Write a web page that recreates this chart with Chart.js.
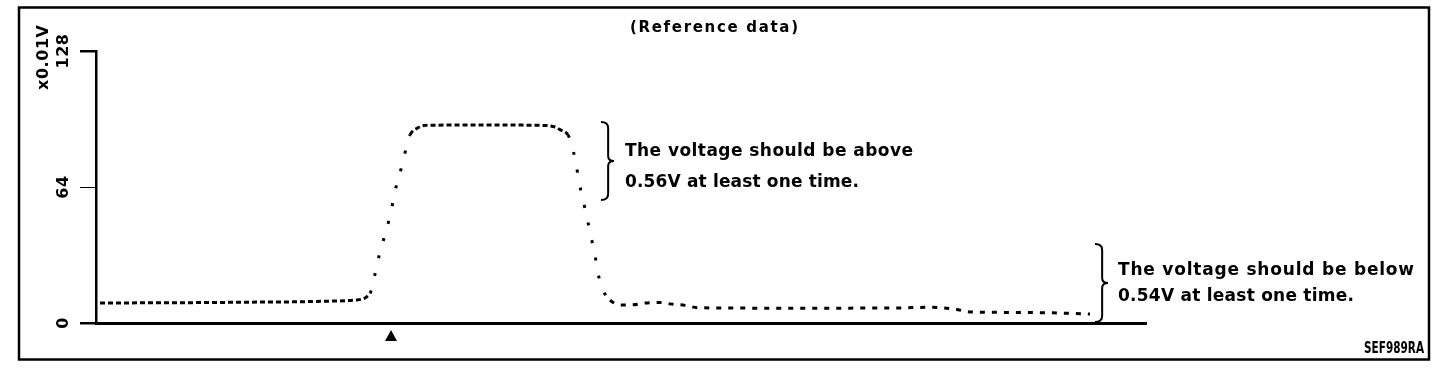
<!DOCTYPE html>
<html><head><meta charset="utf-8">
<script src="https://cdn.jsdelivr.net/npm/chart.js@4.4.0/dist/chart.umd.min.js"></script>
<style>html,body{margin:0;padding:0;background:#fff;}canvas{display:block}</style>
</head><body>
<canvas id="c" width="1456" height="384"></canvas>
<script>
// ---- data ----
const timeS = [0.4, 5.4, 10.4, 15.4, 20.4, 24.4, 25.9, 27.4, 27.9, 28.3, 28.8, 29.3, 29.7, 30.1, 30.6, 31.1, 31.4, 32.1, 32.9, 38.4, 44.4, 45.7, 46.4, 47.2, 47.5, 48.0, 48.3, 48.7, 49.1, 49.5, 49.9, 50.2, 50.7, 51.4, 52.6, 53.7, 54.9, 56.2, 57.4, 58.9, 60.2, 65.4, 70.4, 75.4, 80.4, 83.4, 85.9, 87.4, 90.4, 95.4, 99.4];
const voltage = [9.4, 9.5, 9.6, 9.8, 10.0, 10.4, 10.8, 14, 23, 31.5, 40, 48.5, 57, 66, 74, 84, 88.5, 91.6, 93, 93.2, 93, 92.5, 91, 88.5, 85, 75, 66.5, 58, 49.5, 40.6, 32, 23.5, 15.5, 10.8, 8.5, 8.6, 9.4, 9.7, 9.0, 8.3, 7.2, 7, 7, 7, 7.1, 7.4, 6.5, 5.2, 5, 4.8, 4.2];
const yTickValues = [0, 64, 128];
const yTickLabels = ['0', '64', '128'];
const yUnitLabel = 'x0.01V';
const markerTimes = [29.5];
const titleText = '(Reference data)';
const noteAbove = ['The voltage should be above', '0.56V at least one time.'];
const noteBelow = ['The voltage should be below', '0.54V at least one time.'];
const figureCode = 'SEF989RA';

const points = timeS.map((t, i) => ({x: t, y: voltage[i]}));
const FONT = '"DejaVu Sans", "Liberation Sans", Arial, sans-serif';

function fitText(ctx, text, x, y, w, font) {
  ctx.save();
  ctx.font = font;
  ctx.letterSpacing = '0px';
  ctx.textAlign = 'left';
  ctx.textBaseline = 'middle';
  const m = ctx.measureText(text).width;
  if (m > w) {
    ctx.translate(x, y);
    ctx.scale(w / m, 1);
    ctx.fillText(text, 0, 0);
  } else {
    const ls = text.length > 1 ? (w - m) / (text.length - 1) : 0;
    ctx.letterSpacing = ls + 'px';
    ctx.fillText(text, x, y);
  }
  ctx.restore();
}
function brace(ctx, x, top, bottom, w) {
  const mid = (top + bottom) / 2;
  const xv = x + w * 0.55;
  ctx.beginPath();
  ctx.moveTo(x, top);
  ctx.quadraticCurveTo(xv, top, xv, top + 6);
  ctx.lineTo(xv, mid - 5);
  ctx.quadraticCurveTo(xv, mid, x + w, mid);
  ctx.quadraticCurveTo(xv, mid, xv, mid + 5);
  ctx.lineTo(xv, bottom - 6);
  ctx.quadraticCurveTo(xv, bottom, x, bottom);
  ctx.stroke();
}

const decor = {
  id: 'decor',
  afterDraw(chart) {
    const ctx = chart.ctx;
    const ys = chart.scales.y, xs = chart.scales.x;
    ctx.save();
    ctx.fillStyle = '#000';
    ctx.strokeStyle = '#000';
    // frame
    ctx.lineWidth = 2.5;
    ctx.strokeRect(19, 7.5, 1410, 352);
    // title
    fitText(ctx, titleText, 630, 28, 168, 'bold 15px ' + FONT);
    // y tick labels (rotated)
    ys.ticks.forEach((tk) => {
      const idx = yTickValues.indexOf(tk.value);
      if (idx < 0) return;
      const py = ys.getPixelForValue(tk.value);
      ctx.save();
      ctx.translate(64, py);
      ctx.rotate(-Math.PI / 2);
      ctx.font = 'bold 16px ' + FONT;
      ctx.letterSpacing = '0.5px';
      ctx.textAlign = 'center';
      ctx.textBaseline = 'middle';
      ctx.fillText(yTickLabels[idx], 0, 0);
      ctx.restore();
    });
    // unit label
    ctx.save();
    ctx.translate(44, 58);
    ctx.rotate(-Math.PI / 2);
    fitText(ctx, yUnitLabel, -32, 0, 65, 'bold 16px ' + FONT);
    ctx.restore();
    // event marker triangle
    markerTimes.forEach((t) => {
      const px = xs.getPixelForValue(t);
      const top = chart.chartArea.bottom + 7;
      ctx.beginPath();
      ctx.moveTo(px, top);
      ctx.lineTo(px + 6, top + 11);
      ctx.lineTo(px - 6, top + 11);
      ctx.closePath();
      ctx.fill();
    });
    // braces and notes
    ctx.lineWidth = 2;
    brace(ctx, 601, 122, 200, 13);
    brace(ctx, 1095, 244, 322, 13);
    const nf = 'bold 17px ' + FONT;
    fitText(ctx, noteAbove[0], 625, 152, 288, nf);
    fitText(ctx, noteAbove[1], 625, 183, 234, nf);
    fitText(ctx, noteBelow[0], 1118, 271, 296, nf);
    fitText(ctx, noteBelow[1], 1118, 297, 236, nf);
    fitText(ctx, figureCode, 1364, 349, 60, 'bold 15px ' + FONT);
    ctx.restore();
  }
};

new Chart(document.getElementById('c'), {
  type: 'line',
  data: {
    datasets: [{
      data: points,
      borderColor: '#000',
      borderWidth: 3,
      borderCapStyle: 'butt',
      pointRadius: 0,
      fill: false,
      cubicInterpolationMode: 'monotone',
      segment: {
        borderDash: (ctx) => {
          const dx = Math.abs(ctx.p1.x - ctx.p0.x), dy = Math.abs(ctx.p1.y - ctx.p0.y);
          if (dy > dx * 1.2) return [3, 15];
          return ctx.p0.parsed.x > 51 ? [5, 7] : [5, 3];
        }
      }
    }]
  },
  options: {
    responsive: false,
    animation: false,
    events: [],
    layout: {padding: {top: 51, right: 310, left: 0, bottom: 0}},
    plugins: {legend: {display: false}, tooltip: {enabled: false}, title: {display: false}},
    scales: {
      x: {
        type: 'linear', min: 0, max: 105,
        grid: {display: false, drawTicks: false},
        ticks: {display: false},
        border: {display: true, color: '#000', width: 3},
        afterFit: (s) => { s.height = 61; }
      },
      y: {
        type: 'linear', min: 0, max: 128,
        afterBuildTicks: (s) => { s.ticks = yTickValues.map(v => ({value: v})); },
        grid: {drawOnChartArea: false, drawTicks: true, tickLength: 16, color: '#000',
               lineWidth: (c) => (c.tick && c.tick.value === 64 ? 1 : 2.5)},
        ticks: {display: false},
        border: {display: true, color: '#000', width: 2.5},
        afterFit: (s) => { s.width = 96; }
      }
    }
  },
  plugins: [decor]
});
</script>
</body></html>
